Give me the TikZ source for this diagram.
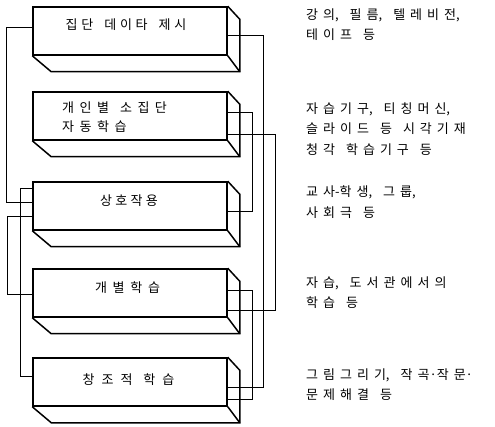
\documentclass[tikz,border=0pt]{standalone}
\usepackage{fontspec}
\newfontfamily\kr{Noto Sans CJK KR}
\usetikzlibrary{calc}

% open tracking between Hangul syllables
\newdimen\hgap
\hgap=5pt
\XeTeXinterchartokenstate=1
\newXeTeXintercharclass\hangul
\newcount\hcode
\hcode="AC00
\loop
  \XeTeXcharclass\hcode=\hangul
  \ifnum\hcode<"D7A3 \advance\hcode by 1
\repeat
\XeTeXinterchartoks \hangul \hangul = {\kern\hgap}

\newcommand\boxfont{\kr\fontsize{13}{19}\selectfont\spaceskip=11pt\relax}
\newcommand\notefont{\kr\fontsize{13}{20.5}\selectfont\spaceskip=11pt\relax}

\tikzset{
  face/.style={draw, line width=1.5pt, minimum width=194pt, minimum height=48pt, inner sep=0pt},
  edge3d/.style={line width=1.5pt, line join=miter},
  conn/.style={line width=1.1pt},
  gap/.style={execute at begin node={\hgap=#1\relax}},
  boxtext/.style={font=\boxfont, inner sep=0pt},
  note/.style={font=\notefont, align=left, anchor=west, inner sep=0pt}
}

% depth lines of a block: right side and bottom
\newcommand{\extrude}[1]{%
  \draw[edge3d] (#1.north east) -- ++(12,13) -- ($(#1.south east)+(12,16)$)
    -- ($(#1.south west)+(19,16)$) -- (#1.south west);
  \draw[edge3d] (#1.south east) -- ++(12,16);
}

\begin{document}
\begin{tikzpicture}[x=1pt, y=-1pt]
\useasboundingbox (0,0) rectangle (495,427);

% blocks (front faces)
\node[face] (b1) at (130,31)  {};
\node[face] (b2) at (130,116) {};
\node[face] (b3) at (130,206) {};
\node[face] (b4) at (130,293) {};
\node[face] (b5) at (130,382) {};
\extrude{b1}\extrude{b2}\extrude{b3}\extrude{b4}\extrude{b5}

% block titles
\node[boxtext, gap=3.75pt] (t1) at (126,25) {집단 데이타 제시};
\node[boxtext, gap=5.5pt, align=left, anchor=west] (t2) at (62,117) {개인별 소집단\\자동학습};
\node[boxtext, gap=3.3pt] (t3) at (129,201) {상호작용};
\node[boxtext, gap=5.7pt] (t4) at (127.5,288) {개별학습};
\node[boxtext, gap=7pt] (t5) at (128.5,380) {창조적 학습};

% examples
\node[note] (n1) at (306,24.5) {강의, 필름, 텔레비전,\\테이프 등};
\node[note] (n2) at (306,129) {자습기구, 티칭머신,\\슬라이드 등 시각기재\\청각 학습기구 등};
\node[note] (n3) at (306,202) {교사-학생, 그룹,\\사회극 등};
\node[note] (n4) at (306,292.5) {자습, 도서관에서의\\학습 등};
\node[note] (n5) at (306,384.5) {그림그리기, 작곡·작문·\\문제해결 등};

% left-hand links
\draw[conn] ($(b1.north west)+(0,21)$) -- ++(-26,0) |- ($(b3.north west)+(0,21)$);
\draw[conn] ($(b3.north west)+(0,7)$)  -- ++(-12,0) |- ($(b5.north west)+(0,19)$);
\draw[conn] ($(b3.north west)+(0,35)$) -- ++(-25,0) |- ($(b4.north west)+(0,26)$);

% right-hand links
\draw[conn] ($(b1.north east)+(0,29)$) -- ++(36,0) |- ($(b5.north east)+(0,30)$);
\draw[conn] ($(b2.north east)+(0,21)$) -- ++(25,0) |- ($(b3.north east)+(0,30)$);
\draw[conn] ($(b2.north east)+(0,43)$) -- ++(48,0) |- ($(b4.north east)+(0,42)$);
\draw[conn] ($(b4.north east)+(0,22)$) -- ++(25,0) |- ($(b5.north east)+(0,42)$);
\end{tikzpicture}
\end{document}
